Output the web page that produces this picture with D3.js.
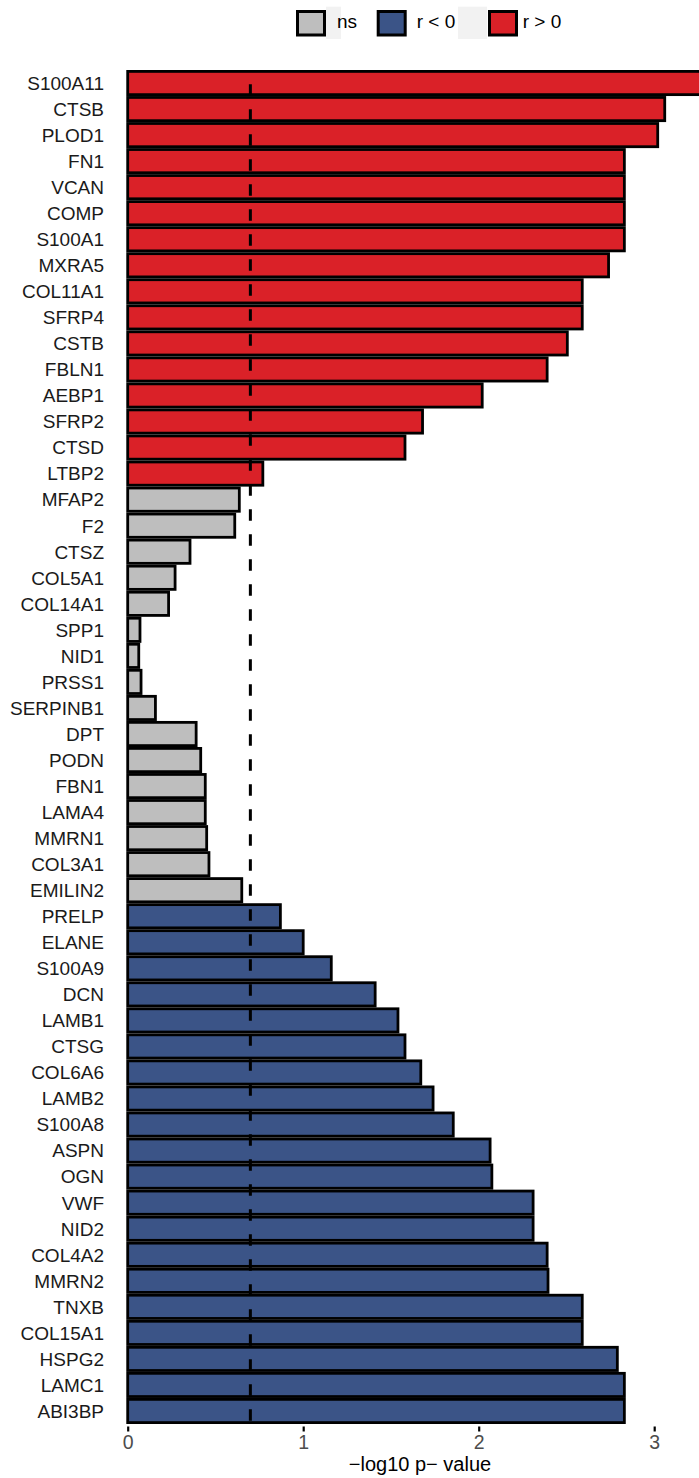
<!DOCTYPE html>
<html>
<head>
<meta charset="utf-8">
<script src="https://cdn.jsdelivr.net/npm/d3@7"></script>
<style>
  html, body { margin: 0; padding: 0; background: #fff; }
  svg { display: block; font-family: "Liberation Sans", Arial, Helvetica, sans-serif; }
</style>
</head>
<body>
<div id="chart"></div>
<script>
// Genes, ordered top to bottom
const genes = [
  "S100A11", "CTSB", "PLOD1", "FN1", "VCAN", "COMP", "S100A1", "MXRA5",
  "COL11A1", "SFRP4", "CSTB", "FBLN1", "AEBP1", "SFRP2", "CTSD", "LTBP2",
  "MFAP2", "F2", "CTSZ", "COL5A1", "COL14A1", "SPP1", "NID1", "PRSS1",
  "SERPINB1", "DPT", "PODN", "FBN1", "LAMA4", "MMRN1", "COL3A1", "EMILIN2",
  "PRELP", "ELANE", "S100A9", "DCN", "LAMB1", "CTSG", "COL6A6", "LAMB2",
  "S100A8", "ASPN", "OGN", "VWF", "NID2", "COL4A2", "MMRN2", "TNXB",
  "COL15A1", "HSPG2", "LAMC1", "ABI3BP"
];

// -log10 p-value per gene
const negLogP = [
  3.36, 3.06, 3.02, 2.83, 2.83, 2.83, 2.83, 2.74,
  2.59, 2.59, 2.505, 2.39, 2.02, 1.68, 1.58, 0.77,
  0.636, 0.61, 0.355, 0.27, 0.233, 0.07, 0.063, 0.076,
  0.158, 0.39, 0.416, 0.442, 0.442, 0.45, 0.463, 0.65,
  0.87, 1.0, 1.16, 1.41, 1.54, 1.58, 1.67, 1.74,
  1.855, 2.065, 2.075, 2.31, 2.31, 2.39, 2.395, 2.59,
  2.59, 2.79, 2.83, 2.83
];

// Correlation group per gene
const groups = [
  "r > 0", "r > 0", "r > 0", "r > 0", "r > 0", "r > 0", "r > 0", "r > 0",
  "r > 0", "r > 0", "r > 0", "r > 0", "r > 0", "r > 0", "r > 0", "r > 0",
  "ns", "ns", "ns", "ns", "ns", "ns", "ns", "ns",
  "ns", "ns", "ns", "ns", "ns", "ns", "ns", "ns",
  "r < 0", "r < 0", "r < 0", "r < 0", "r < 0", "r < 0", "r < 0", "r < 0",
  "r < 0", "r < 0", "r < 0", "r < 0", "r < 0", "r < 0", "r < 0", "r < 0",
  "r < 0", "r < 0", "r < 0", "r < 0"
];

const legendKeys = ["ns", "r < 0", "r > 0"];
const legendColors = ["#bebebe", "#3b5487", "#da2128"];
const xTicks = [0, 1, 2, 3];
const threshold = -Math.log10(0.2);

const data = genes.map((g, i) => ({ gene: g, value: negLogP[i], group: groups[i] }));

const W = 699, H = 1478;
const svg = d3.select("#chart").append("svg")
  .attr("width", W).attr("height", H);

const x = d3.scaleLinear().domain([0, 3.4]).range([127.7, 127.7 + 3.4 * 175.5]);
const y = d3.scaleBand().domain(genes).range([70, 1424]).padding(0);
const color = d3.scaleOrdinal().domain(legendKeys).range(legendColors);

const strokeW = 2.8;

// Bars
svg.append("g").selectAll("rect")
  .data(data).join("rect")
  .attr("x", x(0))
  .attr("y", d => y(d.gene) + strokeW / 2)
  .attr("width", d => x(d.value) - x(0))
  .attr("height", y.bandwidth() - strokeW)
  .attr("fill", d => color(d.group))
  .attr("stroke", "#000")
  .attr("stroke-width", strokeW);

// Significance threshold (p = 0.2)
svg.append("line")
  .attr("x1", x(threshold)).attr("x2", x(threshold))
  .attr("y1", 70).attr("y2", 1428)
  .attr("stroke", "#000")
  .attr("stroke-width", 3)
  .attr("stroke-dasharray", "11.5,13.5")
  .attr("stroke-dashoffset", 10.7);

// Gene labels
svg.append("g").selectAll("text")
  .data(data).join("text")
  .attr("x", 104)
  .attr("y", d => y(d.gene) + y.bandwidth() / 2)
  .attr("dy", "0.36em")
  .attr("text-anchor", "end")
  .attr("font-size", 19)
  .attr("fill", "#1a1a1a")
  .text(d => d.gene);

// X axis
const xAxis = svg.append("g")
  .attr("transform", "translate(0,1426.5)")
  .call(d3.axisBottom(x).tickValues(xTicks).tickFormat(d3.format("d")).tickSize(5).tickPadding(4));
xAxis.select(".domain").remove();
xAxis.selectAll(".tick line").attr("stroke", "#000").attr("stroke-width", 2.2);
xAxis.selectAll(".tick text")
  .attr("font-size", 19.5)
  .attr("font-family", "Liberation Sans, Arial, sans-serif")
  .attr("fill", "#4d4d4d");

svg.append("text")
  .attr("x", 420).attr("y", 1471)
  .attr("text-anchor", "middle")
  .attr("font-size", 20)
  .attr("fill", "#000")
  .text("\u2212log10 p\u2212 value");

// Legend
const legendPos = [
  { box: 296, text: 337, bg: [326, 341] },
  { box: 376.7, text: 416.7, bg: [458, 487] },
  { box: 488, text: 522.7, bg: null }
];
const legend = svg.append("g");
legendKeys.forEach((k, i) => {
  const p = legendPos[i];
  if (p.bg) {
    legend.append("rect")
      .attr("x", p.bg[0]).attr("y", 6.7)
      .attr("width", p.bg[1] - p.bg[0]).attr("height", 32.3)
      .attr("fill", "#f2f2f2");
  }
  legend.append("rect")
    .attr("x", p.box + 1.5).attr("y", 11.5)
    .attr("width", 27).attr("height", 23.5)
    .attr("fill", color(k))
    .attr("stroke", "#000")
    .attr("stroke-width", 3);
  legend.append("text")
    .attr("x", p.text).attr("y", 28.3)
    .attr("font-size", 19)
    .attr("fill", "#000")
    .text(k);
});
</script>
</body>
</html>
